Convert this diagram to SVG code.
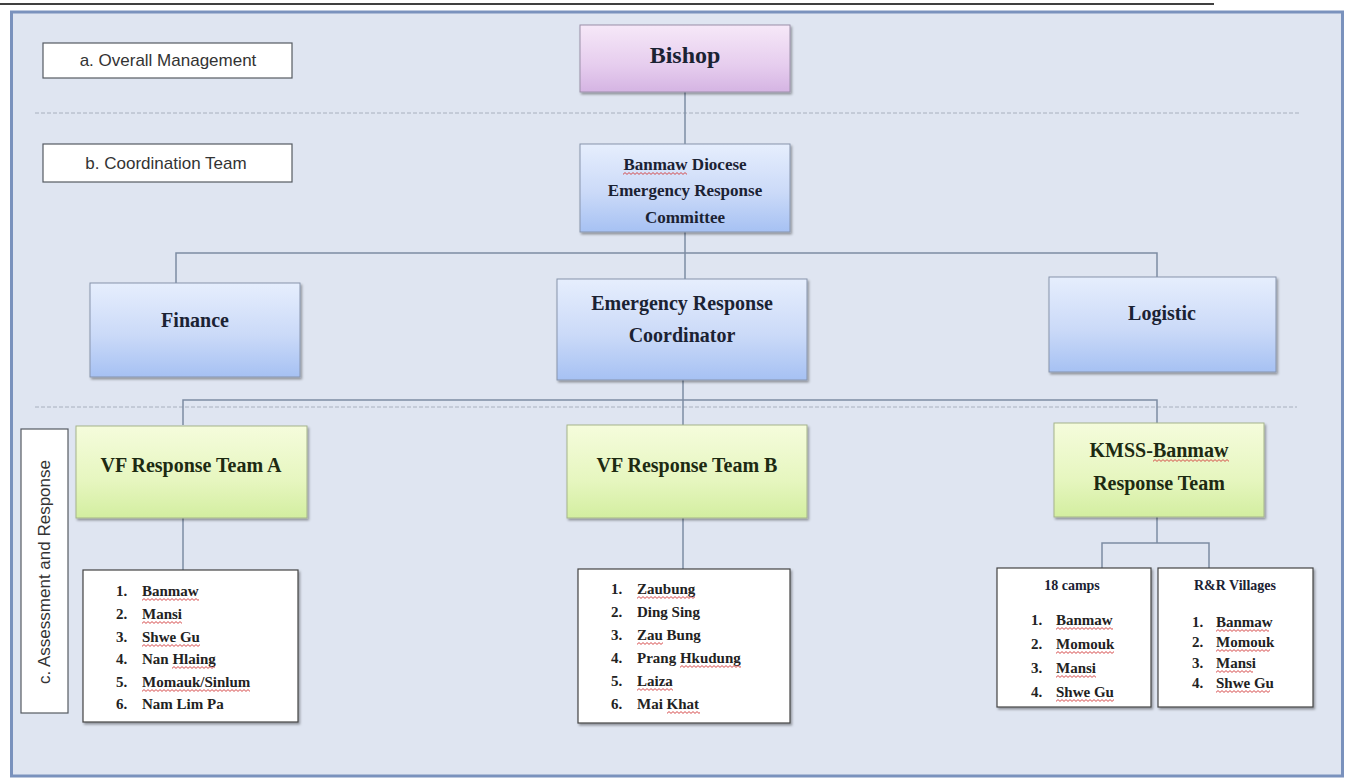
<svg xmlns="http://www.w3.org/2000/svg" width="1352" height="783" viewBox="0 0 1352 783">
<defs>
<linearGradient id="gBlue" x1="0" y1="0" x2="0" y2="1">
<stop offset="0" stop-color="#e6eefd"/><stop offset="0.55" stop-color="#cbdaf8"/><stop offset="1" stop-color="#a6c1f3"/>
</linearGradient>
<linearGradient id="gGreen" x1="0" y1="0" x2="0" y2="1">
<stop offset="0" stop-color="#f5fcdc"/><stop offset="0.6" stop-color="#e6f6bf"/><stop offset="1" stop-color="#d3eea0"/>
</linearGradient>
<linearGradient id="gPurple" x1="0" y1="0" x2="0" y2="1">
<stop offset="0" stop-color="#f6e8f8"/><stop offset="0.6" stop-color="#e6cdee"/><stop offset="1" stop-color="#d5b4e3"/>
</linearGradient>
<filter id="sh" x="-10%" y="-10%" width="125%" height="130%">
<feDropShadow dx="1.5" dy="2" stdDeviation="1.2" flood-color="#000" flood-opacity="0.35"/>
</filter>
<pattern id="wv" patternUnits="userSpaceOnUse" width="4" height="3">
<path d="M0,2.4 L2,0.6 L4,2.4" fill="none" stroke="#d23a3a" stroke-width="0.9"/>
</pattern>
</defs>
<style>
.frame{fill:#dfe5f1;stroke:#7a92bd;stroke-width:3}
.sep{stroke:#a8b0be;stroke-width:1;stroke-dasharray:4 2;fill:none}
.lbl{fill:#ffffff;stroke:#555a62;stroke-width:1.2}
.lt{font-family:"Liberation Sans",Arial,sans-serif;font-size:17px;fill:#333;text-anchor:middle}
.blue{fill:url(#gBlue);stroke:#8793ab;stroke-width:1;filter:url(#sh)}
.green{fill:url(#gGreen);stroke:#a5b38c;stroke-width:1;filter:url(#sh)}
.purple{fill:url(#gPurple);stroke:#9a90a8;stroke-width:1;filter:url(#sh)}
.list{fill:#ffffff;stroke:#444;stroke-width:1.2;filter:url(#sh)}
.t{font-family:"Liberation Serif","Times New Roman",serif;font-weight:bold;fill:#1b2233;text-anchor:middle}
.tg{font-family:"Liberation Serif","Times New Roman",serif;font-weight:bold;fill:#1d2a12;text-anchor:middle}
.li{font-family:"Liberation Serif","Times New Roman",serif;font-weight:bold;font-size:15px;fill:#222}
.wv{fill:url(#wv)}
.con{fill:none;stroke:#7d8ca3;stroke-width:1.5}
</style>
<line x1="0" y1="4" x2="1214" y2="4" stroke="#000" stroke-width="1.5"/>
<rect class="frame" x="11.5" y="12" width="1331" height="764"/>
<line class="sep" x1="35" y1="113" x2="1300" y2="113"/>
<line class="sep" x1="35" y1="407" x2="1297" y2="407"/>

<g id="label-a"><rect class="lbl" x="43" y="43" width="249" height="35"/><text class="lt" x="168" y="66">a.  Overall Management</text></g>
<g id="label-b"><rect class="lbl" x="43" y="144" width="249" height="38"/><text class="lt" x="166" y="169">b. Coordination Team</text></g>
<g id="label-c"><rect class="lbl" x="21" y="429" width="47" height="284"/><text class="lt" transform="translate(50,572) rotate(-90)">c. Assessment and Response</text></g>

<g id="connectors">
<path class="con" d="M685 92 V144"/>
<path class="con" d="M685 232 V279"/>
<path class="con" d="M176 283 V253 H1157 V277"/>
<path class="con" d="M683 380 V425"/>
<path class="con" d="M183 425 V400 H1157 V423"/>
<path class="con" d="M183 518 V570"/>
<path class="con" d="M683 518 V569"/>
<path class="con" d="M1157 517 V543"/>
<path class="con" d="M1102 568 V543 H1209 V568"/>
</g>

<g id="bishop"><rect class="purple" x="580" y="25" width="210" height="67"/><text class="t" x="685" y="63" font-size="24">Bishop</text></g>
<g id="committee"><rect class="blue" x="580" y="144" width="210" height="88"/>
<text class="t" x="685" y="170" font-size="17">Banmaw Diocese</text>
<rect class="wv" width="64" height="3" transform="translate(623,172)"/>
<text class="t" x="685" y="196" font-size="17">Emergency Response</text>
<text class="t" x="685" y="223" font-size="17">Committee</text></g>
<g id="finance"><rect class="blue" x="90" y="283" width="210" height="94"/><text class="t" x="195" y="327" font-size="20">Finance</text></g>
<g id="coordinator"><rect class="blue" x="557" y="279" width="250" height="101"/>
<text class="t" x="682" y="310" font-size="20">Emergency Response</text>
<text class="t" x="682" y="342" font-size="20">Coordinator</text></g>
<g id="logistic"><rect class="blue" x="1049" y="277" width="227" height="95"/><text class="t" x="1162" y="320" font-size="20">Logistic</text></g>

<g id="team-a"><rect class="green" x="76" y="426" width="231" height="92"/><text class="tg" x="191" y="472" font-size="20">VF Response Team A</text></g>
<g id="team-b"><rect class="green" x="567" y="425" width="240" height="93"/><text class="tg" x="687" y="472" font-size="20">VF Response Team B</text></g>
<g id="team-kmss"><rect class="green" x="1054" y="423" width="210" height="94"/>
<text class="tg" x="1159" y="457" font-size="20">KMSS-Banmaw</text>
<rect class="wv" width="76" height="3" transform="translate(1153,459)"/>
<text class="tg" x="1159" y="490" font-size="20">Response Team</text></g>

<g id="list-a"><rect class="list" x="83" y="570" width="215" height="152"/>
<text class="li" x="116" y="596">1.</text><text class="li" x="142" y="596">Banmaw</text>
<text class="li" x="116" y="619">2.</text><text class="li" x="142" y="619">Mansi</text>
<text class="li" x="116" y="642">3.</text><text class="li" x="142" y="642">Shwe Gu</text>
<text class="li" x="116" y="664">4.</text><text class="li" x="142" y="664">Nan Hlaing</text>
<text class="li" x="116" y="687">5.</text><text class="li" x="142" y="687">Momauk/Sinlum</text>
<text class="li" x="116" y="709">6.</text><text class="li" x="142" y="709">Nam Lim Pa</text>
<rect class="wv" width="57" height="3" transform="translate(142,598)"/>
<rect class="wv" width="40" height="3" transform="translate(142,621)"/>
<rect class="wv" width="58" height="3" transform="translate(142,644)"/>
<rect class="wv" width="43" height="3" transform="translate(172,666)"/>
<rect class="wv" width="108" height="3" transform="translate(142,689)"/>
</g>

<g id="list-b"><rect class="list" x="578" y="569" width="212" height="154"/>
<text class="li" x="611" y="594">1.</text><text class="li" x="637" y="594">Zaubung</text>
<text class="li" x="611" y="617">2.</text><text class="li" x="637" y="617">Ding Sing</text>
<text class="li" x="611" y="640">3.</text><text class="li" x="637" y="640">Zau Bung</text>
<text class="li" x="611" y="663">4.</text><text class="li" x="637" y="663">Prang Hkudung</text>
<text class="li" x="611" y="686">5.</text><text class="li" x="637" y="686">Laiza</text>
<text class="li" x="611" y="709">6.</text><text class="li" x="637" y="709">Mai Khat</text>
<rect class="wv" width="58" height="3" transform="translate(637,596)"/>
<rect class="wv" width="26" height="3" transform="translate(637,642)"/>
<rect class="wv" width="61" height="3" transform="translate(680,665)"/>
<rect class="wv" width="36" height="3" transform="translate(637,688)"/>
<rect class="wv" width="33" height="3" transform="translate(667,711)"/>
</g>

<g id="camps"><rect class="list" x="997" y="568" width="154" height="139"/>
<text class="t" x="1072" y="590" font-size="14">18 camps</text>
<text class="li" x="1031" y="625">1.</text><text class="li" x="1056" y="625">Banmaw</text>
<text class="li" x="1031" y="649">2.</text><text class="li" x="1056" y="649">Momouk</text>
<text class="li" x="1031" y="673">3.</text><text class="li" x="1056" y="673">Mansi</text>
<text class="li" x="1031" y="697">4.</text><text class="li" x="1056" y="697">Shwe Gu</text>
<rect class="wv" width="57" height="3" transform="translate(1056,627)"/>
<rect class="wv" width="58" height="3" transform="translate(1056,651)"/>
<rect class="wv" width="40" height="3" transform="translate(1056,675)"/>
<rect class="wv" width="58" height="3" transform="translate(1056,699)"/>
</g>

<g id="villages"><rect class="list" x="1158" y="568" width="155" height="139"/>
<text class="t" x="1235" y="590" font-size="14">R&amp;R Villages</text>
<text class="li" x="1192" y="627" font-size="14">1.</text><text class="li" x="1216" y="627" font-size="14">Banmaw</text>
<text class="li" x="1192" y="647" font-size="14">2.</text><text class="li" x="1216" y="647" font-size="14">Momouk</text>
<text class="li" x="1192" y="668" font-size="14">3.</text><text class="li" x="1216" y="668" font-size="14">Mansi</text>
<text class="li" x="1192" y="688" font-size="14">4.</text><text class="li" x="1216" y="688" font-size="14">Shwe Gu</text>
<rect class="wv" width="53" height="3" transform="translate(1216,629)"/>
<rect class="wv" width="54" height="3" transform="translate(1216,649)"/>
<rect class="wv" width="37" height="3" transform="translate(1216,670)"/>
<rect class="wv" width="54" height="3" transform="translate(1216,690)"/>
</g>
</svg>
